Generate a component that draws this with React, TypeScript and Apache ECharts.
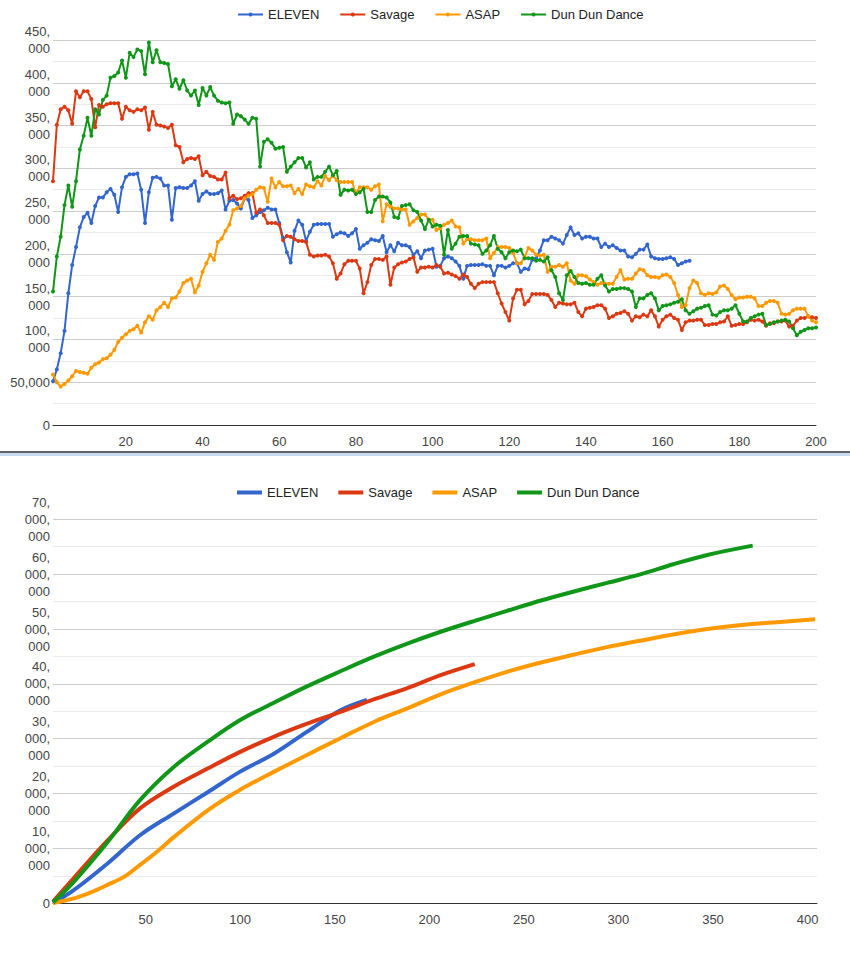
import React, { useEffect, useRef } from "react";
import * as echarts from "echarts";

const seriesNames = ["ELEVEN", "Savage", "ASAP", "Dun Dun Dance"];
const colors = ["#3366cc", "#dc3912", "#ff9900", "#109618"];

// Daily values in thousands (day 1, 2, 3, ...)
const elevenDaily = [
  51, 65, 84, 110, 154, 187, 208, 231, 243, 248,
  236, 256, 266, 266, 272, 276, 269, 249, 278, 290,
  293, 293, 294, 275, 236, 272, 289, 290, 288, 280,
  280, 240, 277, 278, 277, 277, 280, 285, 262, 270,
  273, 270, 270, 271, 274, 252, 262, 263, 259, 253,
  265, 263, 242, 245, 249, 251, 254, 252, 252, 236,
  219, 202, 190, 227, 239, 234, 215, 226, 234, 235,
  235, 235, 235, 220, 223, 225, 224, 221, 224, 229,
  206, 210, 213, 217, 216, 215, 221, 202, 210, 203,
  213, 210, 210, 208, 199, 203, 195, 204, 205, 206,
  185, 186, 195, 197, 195, 191, 186, 171, 186, 187,
  187, 187, 188, 186, 186, 175, 186, 186, 184, 186,
  189, 189, 179, 183, 182, 193, 195, 204, 216, 216,
  220, 218, 216, 212, 222, 231, 222, 224, 218, 220,
  220, 218, 218, 208, 212, 208, 210, 207, 204, 204,
  197, 196, 200, 205, 205, 211, 197, 195, 194, 194,
  195, 196, 194, 187, 189, 191, 192,
];
const savageDaily = [
  285, 351, 369, 372, 368, 352, 390, 383, 390, 390,
  381, 348, 374, 372, 375, 376, 376, 376, 358, 372,
  368, 366, 369, 368, 371, 345, 366, 351, 350, 349,
  347, 351, 327, 325, 307, 311, 312, 311, 314, 292,
  296, 291, 290, 287, 287, 295, 265, 268, 264, 265,
  268, 271, 271, 248, 252, 245, 236, 236, 236, 234,
  216, 221, 220, 217, 215, 215, 214, 199, 197, 198,
  198, 199, 197, 189, 171, 177, 188, 192, 192, 192,
  183, 154, 167, 187, 194, 194, 193, 197, 164, 184,
  188, 190, 191, 194, 196, 179, 184, 184, 185, 184,
  187, 185, 177, 178, 176, 174, 171, 176, 173, 165,
  160, 165, 167, 167, 167, 167, 154, 142, 132, 122,
  148, 158, 158, 141, 145, 153, 153, 153, 153, 152,
  146, 138, 143, 142, 141, 141, 143, 132, 127, 136,
  137, 138, 140, 140, 136, 125, 127, 130, 131, 133,
  130, 122, 127, 126, 129, 127, 134, 127, 115, 123,
  127, 129, 125, 123, 111, 120, 122, 122, 123, 123,
  117, 117, 118, 118, 120, 121, 127, 116, 117, 118,
  118, 120, 123, 122, 123, 121, 116, 119, 119, 121,
  121, 122, 115, 116, 122, 125, 125, 127, 126, 125,
];
const asapDaily = [
  59, 50, 45, 48, 52, 57, 63, 62, 61, 60,
  67, 71, 73, 77, 78, 82, 88, 97, 102, 106,
  110, 112, 116, 108, 120, 127, 123, 134, 138, 143,
  138, 148, 149, 156, 166, 169, 171, 155, 163, 179,
  189, 199, 193, 214, 218, 227, 234, 251, 253, 256,
  265, 268, 270, 275, 278, 277, 261, 288, 278, 284,
  279, 279, 280, 271, 276, 270, 281, 279, 278, 285,
  280, 291, 286, 292, 286, 284, 284, 284, 284, 271,
  278, 278, 278, 275, 279, 281, 238, 258, 255, 253,
  253, 252, 252, 234, 238, 242, 246, 246, 240, 240,
  228, 230, 234, 236, 239, 232, 231, 212, 217, 217,
  216, 216, 216, 218, 195, 201, 208, 208, 208, 207,
  201, 189, 189, 196, 207, 204, 199, 198, 199, 179,
  185, 185, 187, 185, 189, 169, 165, 175, 175, 174,
  170, 167, 164, 166, 165, 165, 165, 173, 181, 170,
  171, 171, 177, 182, 181, 175, 173, 173, 172, 175,
  176, 173, 166, 152, 138, 140, 160, 169, 166, 154,
  152, 154, 153, 155, 162, 163, 159, 152, 147, 149,
  149, 150, 150, 148, 139, 139, 143, 145, 145, 143,
  130, 129, 130, 134, 136, 136, 136, 127, 122, 120,
];
const dddDaily = [
  156, 197, 220, 257, 280, 255, 285, 322, 338, 359,
  338, 369, 363, 380, 385, 406, 408, 412, 426, 406,
  435, 430, 439, 437, 410, 447, 424, 438, 424, 423,
  422, 396, 404, 393, 403, 391, 385, 391, 374, 394,
  385, 395, 385, 379, 377, 376, 377, 352, 363, 361,
  357, 352, 359, 358, 302, 331, 334, 330, 323, 324,
  325, 296, 302, 307, 312, 312, 301, 307, 287, 290,
  290, 296, 302, 292, 297, 269, 275, 274, 275, 270,
  272, 276, 249, 249, 263, 267, 267, 266, 260, 243,
  242, 256, 257, 258, 251, 249, 239, 229, 240, 232,
  234, 233, 199, 228, 206, 212, 220, 221, 221, 212,
  211, 210, 200, 204, 210, 221, 206, 202, 195, 202,
  204, 203, 205, 195, 195, 195, 192, 193, 191, 196,
  181, 173, 154, 146, 175, 180, 173, 166, 165, 166,
  164, 164, 171, 175, 163, 156, 159, 159, 160, 160,
  159, 156, 138, 148, 148, 152, 154, 148, 134, 139,
  140, 141, 143, 144, 147, 134, 130, 133, 136, 137,
  139, 140, 129, 128, 132, 134, 134, 136, 140, 130,
  121, 121, 125, 127, 129, 130, 117, 118, 120, 121,
  122, 123, 121, 113, 105, 109, 111, 113, 113, 114,
];

// Cumulative values (millions) sampled at given days
const elevenCumDays = [1, 12, 30, 47, 65, 83, 100, 118, 135, 153, 167];
const elevenCum = [0.05, 2.4, 7.3, 12.4, 16.4, 20.3, 24.0, 27.3, 31.2, 35.2, 37.1];
const savageCumDays = [1, 12, 30, 47, 65, 83, 100, 118, 135, 153, 171, 188, 206, 224];
const savageCum = [0.3, 4.6, 11.5, 17.3, 21.3, 24.6, 27.6, 30.4, 32.7, 34.9, 37.2, 39.2, 41.6, 43.6];
const asapCumDays = [1, 12, 21, 30, 39, 47, 56, 65, 83, 100, 118, 135, 153, 171, 188, 206, 224, 241, 259, 276, 294, 312, 329, 347, 364, 382, 404];
const asapCum = [0.06, 0.9, 2.0, 3.4, 4.9, 7.0, 9.4, 12.1, 17.0, 20.7, 24.0, 27.0, 30.1, 33.1, 35.5, 38.1, 40.3, 42.2, 43.9, 45.3, 46.7, 47.9, 49.0, 50.0, 50.7, 51.2, 51.8];
const dddCumDays = [1, 12, 30, 47, 65, 83, 100, 118, 135, 153, 171, 188, 206, 224, 241, 259, 276, 294, 312, 329, 347, 371];
const dddCum = [0.16, 3.9, 11.2, 18.8, 24.9, 29.5, 33.4, 36.6, 39.5, 42.3, 45.0, 47.3, 49.5, 51.5, 53.3, 55.2, 56.8, 58.4, 60.0, 61.8, 63.5, 65.2];

const topXTicks = [20, 40, 60, 80, 100, 120, 140, 160, 180, 200];
const bottomXTicks = [50, 100, 150, 200, 250, 300, 350, 400];

const FONT = "'Liberation Sans', Arial, sans-serif";

const dailyPairs = (arr: number[]) => arr.map((v, i) => [i + 1, v * 1000]);
const cumPairs = (d: number[], v: number[]) => d.map((x, i) => [x, v[i] * 1e6]);

const legendCommon = {
  left: 232,
  itemWidth: 25,
  itemGap: 20,
  textStyle: { fontSize: 13, color: "#222", fontFamily: FONT },
  data: seriesNames,
};

export default function App() {
  const topRef = useRef<HTMLDivElement>(null);
  const botRef = useRef<HTMLDivElement>(null);

  useEffect(() => {
    document.body.style.margin = "0";
    const top = echarts.init(topRef.current!, undefined, { renderer: "svg" });
    const bot = echarts.init(botRef.current!, undefined, { renderer: "svg" });

    const daily = [elevenDaily, savageDaily, asapDaily, dddDaily];
    top.setOption({
      animation: false,
      textStyle: { fontFamily: FONT },
      legend: { ...legendCommon, top: 3, itemHeight: 5 },
      grid: { left: 53, top: 40, width: 763, height: 385 },
      xAxis: {
        type: "value",
        min: 1,
        max: 200,
        axisLine: { show: true, onZero: false, lineStyle: { color: "#333", width: 1 } },
        axisTick: { show: false },
        splitLine: { show: false },
        axisLabel: { customValues: topXTicks, margin: 10, color: "#444", fontSize: 13, fontFamily: FONT },
      },
      yAxis: {
        type: "value",
        min: 0,
        max: 450000,
        interval: 50000,
        axisLine: { show: false },
        axisTick: { show: false },
        splitLine: { lineStyle: { color: "#cccccc" } },
        minorTick: { show: false, splitNumber: 2 },
        minorSplitLine: { show: true, lineStyle: { color: "#ebebeb" } },
        axisLabel: {
          margin: 3,
          color: "#444",
          fontSize: 13,
          lineHeight: 17,
          fontFamily: FONT,
          formatter: (v: number) => (v === 0 ? "0" : v === 50000 ? "50,000" : `${v / 1000},\n000`),
        },
      },
      series: seriesNames.map((name, i) => ({
        name,
        type: "line",
        data: dailyPairs(daily[i]),
        color: colors[i],
        symbol: "circle",
        symbolSize: 4,
        showSymbol: true,
        lineStyle: { width: 2 },
      })),
    });

    const cumD = [elevenCumDays, savageCumDays, asapCumDays, dddCumDays];
    const cumV = [elevenCum, savageCum, asapCum, dddCum];
    bot.setOption({
      animation: false,
      textStyle: { fontFamily: FONT },
      legend: { ...legendCommon, top: 25, icon: "rect", itemHeight: 4 },
      grid: { left: 53, top: 63.3, width: 764, height: 384 },
      xAxis: {
        type: "value",
        min: 1,
        max: 405,
        axisLine: { show: true, onZero: false, lineStyle: { color: "#333", width: 1 } },
        axisTick: { show: false },
        splitLine: { show: false },
        axisLabel: { customValues: bottomXTicks, margin: 10, color: "#444", fontSize: 13, fontFamily: FONT },
      },
      yAxis: {
        type: "value",
        min: 0,
        max: 70000000,
        interval: 10000000,
        axisLine: { show: false },
        axisTick: { show: false },
        splitLine: { lineStyle: { color: "#cccccc" } },
        minorTick: { show: false, splitNumber: 2 },
        minorSplitLine: { show: true, lineStyle: { color: "#ebebeb" } },
        axisLabel: {
          margin: 3,
          color: "#444",
          fontSize: 13,
          lineHeight: 17,
          fontFamily: FONT,
          formatter: (v: number) => (v === 0 ? "0" : `${v / 1e6},\n000,\n000`),
        },
      },
      series: seriesNames.map((name, i) => ({
        name,
        type: "line",
        data: cumPairs(cumD[i], cumV[i]),
        color: colors[i],
        smooth: 0.35,
        symbol: "none",
        showSymbol: false,
        lineStyle: { width: 4 },
      })),
    });

    return () => {
      top.dispose();
      bot.dispose();
    };
  }, []);

  return (
    <div style={{ position: "relative", width: 850, height: 972, background: "#fff" }}>
      <div ref={topRef} style={{ position: "absolute", left: 0, top: 0, width: 850, height: 450 }} />
      <div style={{ position: "absolute", left: 0, top: 451, width: 850, height: 2, background: "#5f6368" }} />
      <div style={{ position: "absolute", left: 0, top: 453, width: 850, height: 3, background: "#c9daf0" }} />
      <div ref={botRef} style={{ position: "absolute", left: 0, top: 456, width: 850, height: 516 }} />
    </div>
  );
}
